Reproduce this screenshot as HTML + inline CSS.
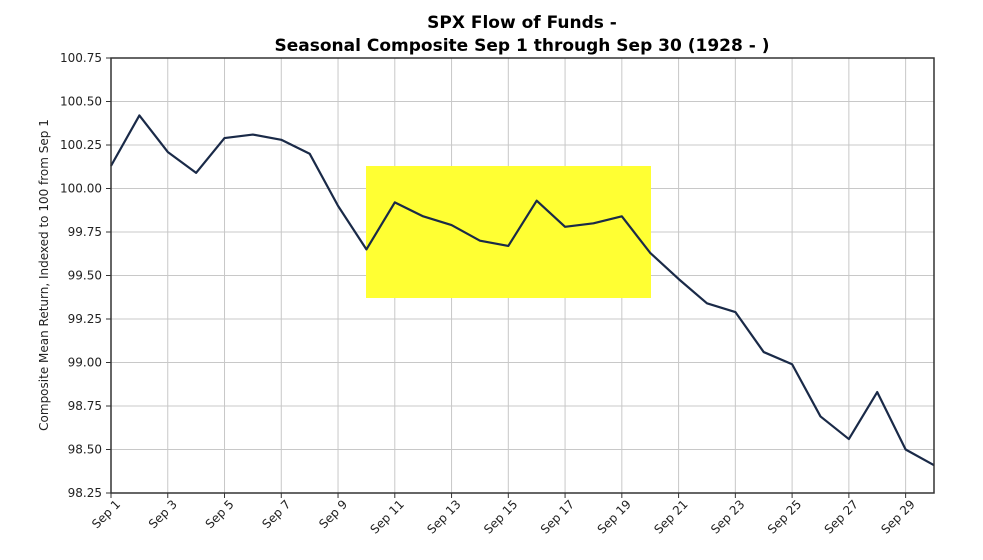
<!DOCTYPE html>
<html><head><meta charset="utf-8"><style>body{margin:0;background:#fff}svg{display:block}text{font-family:"DejaVu Sans","Liberation Sans",sans-serif;fill:#222}</style></head>
<body>
<svg width="983" height="560" xmlns="http://www.w3.org/2000/svg">
<text x="522" y="28" text-anchor="middle" font-size="17" font-weight="bold" style="fill:#000">SPX Flow of Funds -</text>
<text x="522" y="51" text-anchor="middle" font-size="17" font-weight="bold" style="fill:#000">Seasonal Composite Sep 1 through Sep 30 (1928 - )</text>
<g id="grid" stroke="#c8c8c8" stroke-width="1"></g>
<rect x="366" y="166" width="285" height="132" fill="#ffff33"/>
<g id="axes"></g>
<polyline id="line" fill="none" stroke="#1a2a48" stroke-width="2.2" stroke-linejoin="round"/>
<rect x="111" y="58" width="823" height="435" fill="none" stroke="#333" stroke-width="1.5"/>
<text transform="translate(48,275) rotate(-90)" text-anchor="middle" font-size="12">Composite Mean Return, Indexed to 100 from Sep 1</text>
</svg>
<script>
const ns="http://www.w3.org/2000/svg",s=document.querySelector('svg');
const L=111,R=934,T=58,B=493,X=d=>L+(d-1)*(R-L)/29,Y=v=>B-(v-98.25)/2.5*(B-T);
const g=document.getElementById('grid'),a=document.getElementById('axes');
function el(p,t,at,txt){const e=document.createElementNS(ns,t);for(const k in at)e.setAttribute(k,at[k]);if(txt)e.textContent=txt;p.appendChild(e);return e;}
for(let i=0;i<=10;i++){const v=98.25+i*0.25,y=Y(v);el(g,'line',{x1:L,x2:R,y1:y,y2:y});el(a,'line',{x1:L-5,x2:L,y1:y,y2:y,stroke:'#333'});el(a,'text',{x:L-9,y:y+4,'text-anchor':'end','font-size':12},v.toFixed(2));}
for(let d=1;d<=29;d+=2){const x=X(d);el(g,'line',{x1:x,x2:x,y1:T,y2:B});el(a,'line',{x1:x,x2:x,y1:B,y2:B+5,stroke:'#333'});el(a,'text',{transform:`translate(${x+10},${B+12}) rotate(-45)`,'text-anchor':'end','font-size':12},'Sep '+d);}
const v=[100.13,100.42,100.21,100.09,100.29,100.31,100.28,100.20,99.90,99.65,99.92,99.84,99.79,99.70,99.67,99.93,99.78,99.80,99.84,99.63,99.48,99.34,99.29,99.06,98.99,98.69,98.56,98.83,98.50,98.41];
document.getElementById('line').setAttribute('points',v.map((q,i)=>X(i+1)+','+Y(q)).join(' '));
</script>
</body></html>
